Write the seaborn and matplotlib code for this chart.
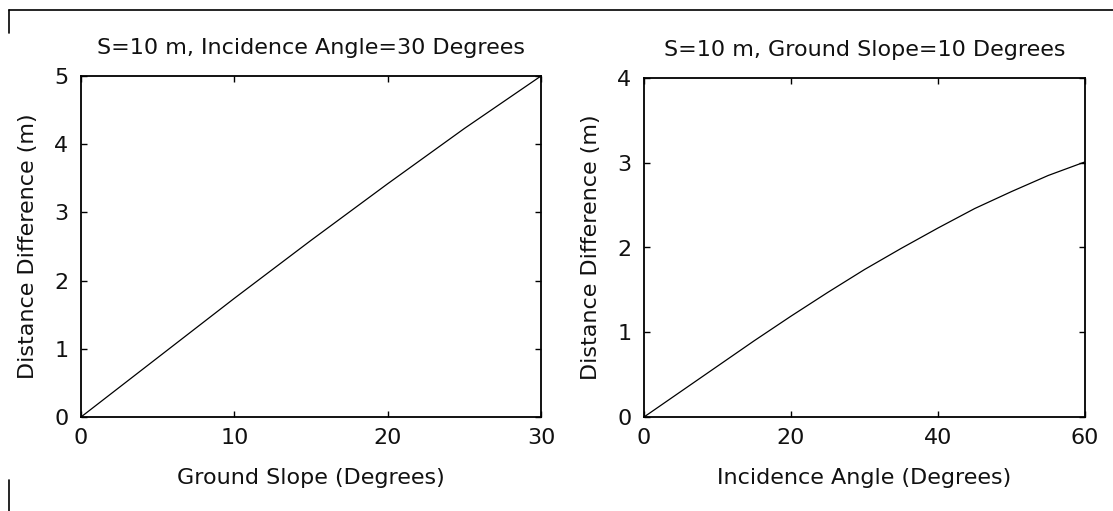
"""Distance difference vs ground slope and incidence angle (S = 10 m)."""

import matplotlib.pyplot as plt
import pandas as pd
import seaborn as sns
from matplotlib.lines import Line2D

# left panel: incidence angle fixed at 30 degrees
slope_deg = [0, 5, 10, 15, 20, 25, 30]
slope_diff = [0.0, 0.87, 1.74, 2.59, 3.42, 4.23, 5.0]

# right panel: ground slope fixed at 10 degrees
incid_deg = [0, 5, 10, 15, 20, 25, 30, 35, 40, 45, 50, 55, 60]
incid_diff = [0.0, 0.30, 0.60, 0.90, 1.19, 1.47, 1.74, 1.99, 2.23, 2.46, 2.66, 2.85, 3.01]

left_ticks = [0, 10, 20, 30]
left_yticks = [0, 1, 2, 3, 4, 5]
right_ticks = [0, 20, 40, 60]
right_yticks = [0, 1, 2, 3, 4]

W, H = 1113, 511

sns.set_theme(style="white")
plt.rcParams["font.family"] = ["DejaVu Sans"]
FS = 16

fig = plt.figure(figsize=(W / 100, H / 100), dpi=100)
fig.patch.set_facecolor("white")


def px_axes(x0, x1, y0, y1):
    return fig.add_axes([x0 / W, 1 - y1 / H, (x1 - x0) / W, (y1 - y0) / H])


ax1 = px_axes(81, 541, 76, 417)
ax2 = px_axes(644, 1085, 78, 417)

df1 = pd.DataFrame({"slope": slope_deg, "diff": slope_diff})
df2 = pd.DataFrame({"incid": incid_deg, "diff": incid_diff})

sns.lineplot(data=df1, x="slope", y="diff", ax=ax1, color="black", lw=0.9)
sns.lineplot(data=df2, x="incid", y="diff", ax=ax2, color="black", lw=0.9)

panels = [
    (ax1, (0, 30), (0, 5), left_ticks, left_yticks,
     "S=10 m, Incidence Angle=30 Degrees", "Ground Slope (Degrees)"),
    (ax2, (0, 60), (0, 4), right_ticks, right_yticks,
     "S=10 m, Ground Slope=10 Degrees", "Incidence Angle (Degrees)"),
]
for ax, xl, yl, xt, yt, title, xlabel in panels:
    ax.set_xlim(*xl)
    ax.set_ylim(*yl)
    ax.set_xticks(xt)
    ax.set_yticks(yt)
    ax.set_title(title, fontsize=FS, pad=16, color="#111111")
    ax.set_xlabel(xlabel, fontsize=FS, labelpad=14, color="#111111")
    ax.set_ylabel("Distance Difference (m)", fontsize=FS, labelpad=12, color="#111111")
    ax.tick_params(direction="in", length=4.5, width=1, color="black",
                   labelsize=FS, labelcolor="#111111", top=True, right=True,
                   bottom=True, left=True)
    ax.tick_params(axis="x", pad=8)
    ax.tick_params(axis="y", pad=9)
    for sp in ax.spines.values():
        sp.set_color("black")
        sp.set_linewidth(1.3)

# screenshot frame (top and left edges)
fig.add_artist(Line2D([9 / W, 1], [1 - 10 / H, 1 - 10 / H], color="black", lw=1.2,
                      transform=fig.transFigure))
fig.add_artist(Line2D([9 / W, 9 / W], [1 - 10 / H, 1 - 33 / H], color="black", lw=1.2,
                      transform=fig.transFigure))
fig.add_artist(Line2D([9 / W, 9 / W], [1 - 480 / H, 0], color="black", lw=1.2,
                      transform=fig.transFigure))

fig.savefig("out.png", dpi=100)
